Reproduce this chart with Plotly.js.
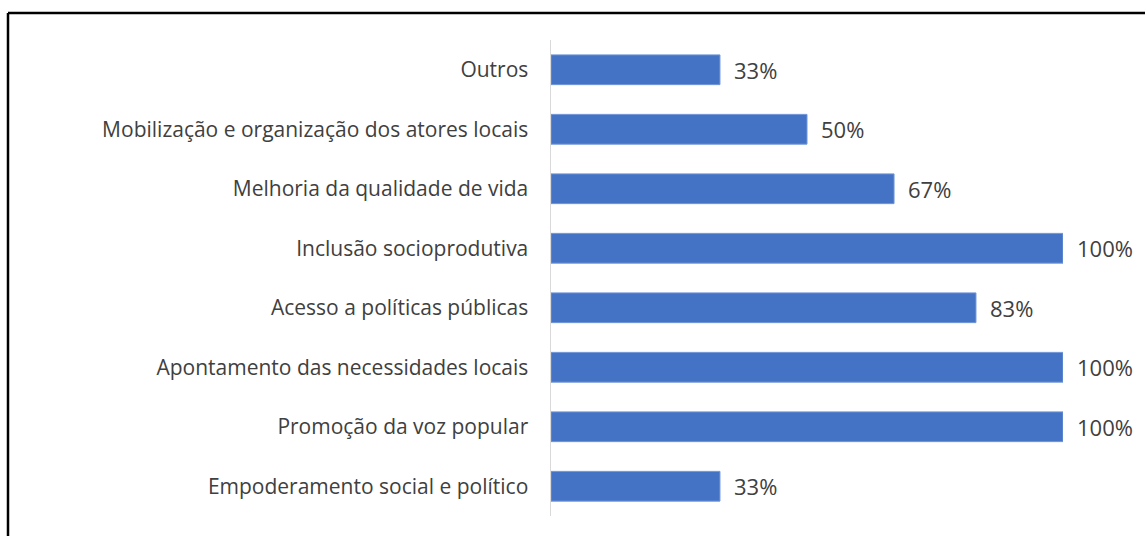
<!DOCTYPE html>
<html>
<head>
<meta charset="utf-8">
<script src="https://cdn.plot.ly/plotly-3.0.1.min.js"></script>
<style>
  html, body { margin: 0; padding: 0; background: #fff; }
  #chart { width: 1145px; height: 536px; }
</style>
</head>
<body>
<div id="chart"></div>
<script>
// Categories listed bottom to top
const categories = [
  "Empoderamento social e político",
  "Promoção da voz popular",
  "Apontamento das necessidades locais",
  "Acesso a políticas públicas",
  "Inclusão socioprodutiva",
  "Melhoria da qualidade de vida",
  "Mobilização e organização dos atores locais",
  "Outros"
];
const values = [0.33, 1.00, 1.00, 0.83, 1.00, 0.67, 0.50, 0.33];
const valueLabels = ["33%", "100%", "100%", "83%", "100%", "67%", "50%", "33%"];

const fontFamily = "Open Sans, Noto Sans, sans-serif";

const trace = {
  type: "bar",
  orientation: "h",
  y: categories,
  x: values,
  marker: { color: "#4472c4", line: { color: "#7096d8", width: 1 } },
  width: 0.5,
  hoverinfo: "none"
};

const annotations = categories.map((c, i) => ({
  x: values[i],
  y: c,
  xref: "x",
  yref: "y",
  text: valueLabels[i],
  showarrow: false,
  xanchor: "left",
  yanchor: "middle",
  xshift: 12,
  font: { family: fontFamily, size: 22, color: "#404040" }
}));

const layout = {
  width: 1145,
  height: 536,
  margin: { l: 551, r: 82, t: 40, b: 20 },
  paper_bgcolor: "#ffffff",
  plot_bgcolor: "#ffffff",
  showlegend: false,
  bargap: 0.5,
  xaxis: {
    range: [0, 1],
    showgrid: false,
    zeroline: false,
    showticklabels: false,
    showline: false,
    fixedrange: true
  },
  yaxis: {
    type: "category",
    showgrid: false,
    zeroline: false,
    showline: true,
    linecolor: "#d9d9d9",
    linewidth: 1.5,
    ticks: "",
    ticklabelstandoff: 17,
    tickfont: { family: fontFamily, size: 21, color: "#404040" },
    fixedrange: true
  },
  annotations: annotations,
  shapes: [
    { type: "line", xref: "paper", yref: "paper",
      x0: (8 - 551) / 512, x1: (1145 - 551) / 512, y0: 1 + 27 / 476, y1: 1 + 27 / 476,
      line: { color: "#000000", width: 2.5 } },
    { type: "line", xref: "paper", yref: "paper",
      x0: (8 - 551) / 512, x1: (8 - 551) / 512, y0: 1 + 27 / 476, y1: -20 / 476 - 0.05,
      line: { color: "#000000", width: 2.5 } }
  ]
};

Plotly.newPlot("chart", [trace], layout, { staticPlot: true, displayModeBar: false });
</script>
</body>
</html>
